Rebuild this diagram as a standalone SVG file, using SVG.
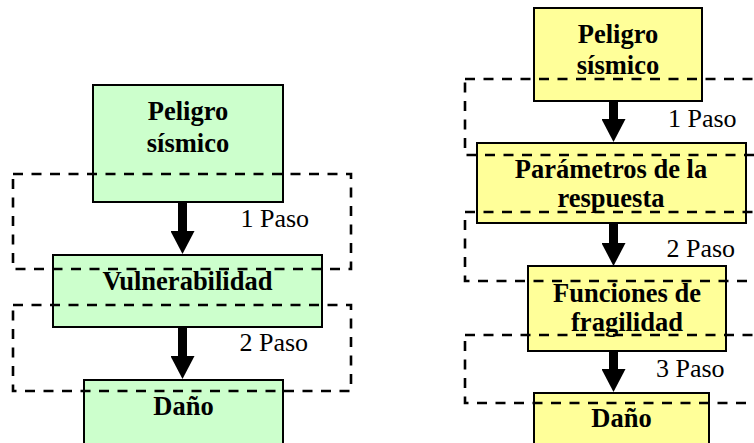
<svg xmlns="http://www.w3.org/2000/svg" width="754" height="443" viewBox="0 0 754 443">
<style>
.g{fill:#CCFFCC;stroke:#000;stroke-width:2}
.y{fill:#FFFF99;stroke:#000;stroke-width:2}
.d{fill:none;stroke:#000;stroke-width:2.6;stroke-dasharray:10 8.5}
.t{font-family:"Liberation Serif","Times New Roman",serif;font-size:26.5px;font-weight:bold;text-anchor:middle;fill:#000}
.p{font-family:"Liberation Serif","Times New Roman",serif;font-size:26px;fill:#000}
.a{stroke:#000;stroke-width:9;fill:none}
</style>
<defs>
<marker id="ah" markerUnits="userSpaceOnUse" markerWidth="23" markerHeight="24" viewBox="0 0 23 24" refX="0" refY="12" orient="auto">
<path d="M0,0 L23,12 L0,24 Z" fill="#000"/>
</marker>
</defs>
<g id="left-peligro"><rect class="g" x="93" y="85" width="190" height="117"/><text class="t" x="188" y="120">Peligro</text><text class="t" x="188" y="151.5">sísmico</text></g>
<g id="left-vulnerabilidad"><rect class="g" x="53" y="255" width="269" height="72"/><text class="t" x="187.5" y="290">Vulnerabilidad</text></g>
<g id="left-dano"><rect class="g" x="84" y="380" width="199" height="70"/><text class="t" x="183.5" y="415">Daño</text></g>
<g id="right-peligro"><rect class="y" x="534" y="8" width="168" height="93"/><text class="t" x="618" y="43">Peligro</text><text class="t" x="618" y="74">sísmico</text></g>
<g id="right-parametros"><rect class="y" x="477" y="143" width="269" height="80"/><text class="t" x="611" y="178">Parámetros de la</text><text class="t" x="611" y="206.5">respuesta</text></g>
<g id="right-funciones"><rect class="y" x="528" y="266" width="198" height="85"/><text class="t" x="627" y="301.5">Funciones de</text><text class="t" x="627" y="331">fragilidad</text></g>
<g id="right-dano"><rect class="y" x="534" y="393" width="175" height="60"/><text class="t" x="621.5" y="426.5">Daño</text></g>
<g id="steps">
<rect class="d" x="13" y="174" width="338" height="95"/>
<rect class="d" x="13" y="305" width="338" height="86"/>
<rect class="d" x="465" y="79" width="310" height="76"/>
<rect class="d" x="465" y="212" width="310" height="69"/>
<rect class="d" x="465" y="335" width="310" height="68"/>
<text class="p" x="240.5" y="226.5">1 Paso</text>
<text class="p" x="239.5" y="350.5">2 Paso</text>
<text class="p" x="668" y="126.5">1 Paso</text>
<text class="p" x="666.5" y="257">2 Paso</text>
<text class="p" x="656" y="377">3 Paso</text>
</g>
<g id="connectors">
<line class="a" x1="182.5" y1="202" x2="182.5" y2="231" marker-end="url(#ah)"/>
<line class="a" x1="182.5" y1="327" x2="182.5" y2="356" marker-end="url(#ah)"/>
<line class="a" x1="613.5" y1="101" x2="613.5" y2="119" marker-end="url(#ah)"/>
<line class="a" x1="613.5" y1="223" x2="613.5" y2="243" marker-end="url(#ah)"/>
<line class="a" x1="613.5" y1="351" x2="613.5" y2="369" marker-end="url(#ah)"/>
</g>
</svg>
